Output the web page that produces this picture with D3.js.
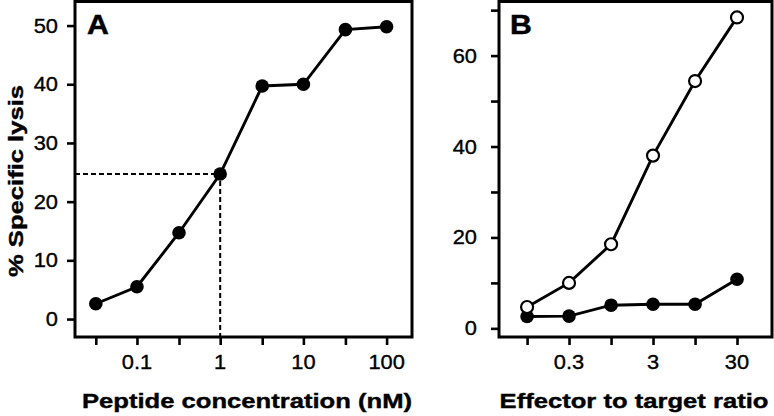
<!DOCTYPE html>
<html><head><meta charset="utf-8">
<script src="https://cdn.jsdelivr.net/npm/d3@7"></script>
<style>
html,body{margin:0;padding:0;background:#fff;}
svg{display:block;}
text{font-family:"Liberation Sans",Arial,Helvetica,sans-serif;fill:#000;}
</style></head>
<body>
<svg id="chart" width="774" height="416"></svg>
<script>
// Panel A: peptide titration
const concA = [0.032, 0.1, 0.32, 1, 3.2, 10, 32, 100];
const lysisA = [2.6, 5.5, 14.7, 24.7, 39.7, 40.0, 49.3, 49.8];
const ticksA_x = [0.032, 0.1, 0.32, 1, 3.2, 10, 32, 100];
const labelsA_x = ["", "0.1", "", "1", "", "10", "", "100"];
const ticksA_y = [0, 10, 20, 30, 40, 50];
const halfMaxConc = 1, halfMaxLysis = 24.7;

// Panel B: effector to target ratio
const ratioB = [0.095, 0.3, 0.95, 3, 9.5, 30];
const lysisOpen = [4.7, 10.0, 18.5, 38.0, 54.4, 68.4];
const lysisFilled = [2.6, 2.7, 5.1, 5.3, 5.3, 10.8];
const ticksB_x = [0.095, 0.3, 0.95, 3, 9.5, 30];
const labelsB_x = ["", "0.3", "", "3", "", "30"];
const ticksB_y = [0, 10, 20, 30, 40, 50, 60, 70];
const labelsB_y = ["0", "", "20", "", "40", "", "60", ""];

const svg = d3.select("#chart");
const SX = 1.12;      // horizontal stretch of the typeface
const tickFont = 19.5, titleFont = 21, panelFont = 27;

function stext(x, y, str, opts) {
  const o = Object.assign({size: tickFont, anchor: "middle", weight: "normal", rot: 0, sx: SX, stroke: 0.35}, opts || {});
  svg.append("text")
    .attr("transform", `translate(${x},${y}) rotate(${o.rot}) scale(${o.sx},1)`)
    .attr("text-anchor", o.anchor)
    .attr("font-size", o.size)
    .attr("font-weight", o.weight)
    .attr("stroke", o.stroke ? "#000" : "none")
    .attr("stroke-width", o.stroke)
    .text(str);
}

function panel(cfg) {
  const x = d3.scaleLog().domain(cfg.xDomain).range([cfg.left, cfg.right]);
  const y = d3.scaleLinear().domain(cfg.yDomain).range([cfg.bottom, cfg.top]);
  const g = svg.append("g");
  g.append("rect").attr("x", cfg.left).attr("y", cfg.top)
    .attr("width", cfg.right - cfg.left).attr("height", cfg.bottom - cfg.top)
    .attr("fill", "none").attr("stroke", "#000").attr("stroke-width", 3);
  const yAxis = d3.axisLeft(y).tickValues(cfg.yTicks).tickSize(8).tickFormat("");
  const ya = g.append("g").attr("transform", `translate(${cfg.left},0)`).call(yAxis);
  ya.select(".domain").remove();
  ya.selectAll(".tick line").attr("stroke-width", 2.6);
  cfg.yTicks.forEach((v, i) => {
    const lab = cfg.yLabels ? cfg.yLabels[i] : String(v);
    if (lab) stext(cfg.yLabelX, y(v) + 7, lab, {anchor: "end"});
  });
  const xAxis = d3.axisBottom(x).tickValues(cfg.xTicks).tickSize(8).tickFormat("");
  const xa = g.append("g").attr("transform", `translate(0,${cfg.bottom})`).call(xAxis);
  xa.select(".domain").remove();
  xa.selectAll(".tick line").attr("stroke-width", 2.6);
  cfg.xTicks.forEach((v, i) => {
    const lab = cfg.xLabels[i];
    if (lab) stext(x(v), 368.5, lab);
  });
  return {x, y, g};
}

// ---------- Panel A ----------
const A = panel({
  left: 75, right: 412, top: 1.5, bottom: 337,
  xDomain: [0.018, 202], yDomain: [-3.06, 54.1],
  yTicks: ticksA_y, xTicks: ticksA_x, xLabels: labelsA_x, yLabelX: 58
});
A.g.append("path")
  .attr("d", d3.line()([[A.x.range()[0], A.y(halfMaxLysis)], [A.x(halfMaxConc), A.y(halfMaxLysis)], [A.x(halfMaxConc), A.y.range()[0]]]))
  .attr("fill", "none").attr("stroke", "#000").attr("stroke-width", 2).attr("stroke-dasharray", "5,3");
const lineA = d3.line().x((d, i) => A.x(concA[i])).y(d => A.y(d));
A.g.append("path").attr("d", lineA(lysisA)).attr("fill", "none").attr("stroke", "#000").attr("stroke-width", 2.9);
A.g.selectAll("circle.a").data(lysisA).enter().append("circle")
  .attr("cx", (d, i) => A.x(concA[i])).attr("cy", d => A.y(d)).attr("r", 6.8).attr("fill", "#000");
stext(87, 34, "A", {anchor: "start", size: panelFont, weight: "bold", sx: 1.12, stroke: 0.5});

// ---------- Panel B ----------
const B = panel({
  left: 499, right: 772, top: 1.5, bottom: 337,
  xDomain: [0.044, 78.3], yDomain: [-1.9, 71.9],
  yTicks: ticksB_y, yLabels: labelsB_y, xTicks: ticksB_x, xLabels: labelsB_x, yLabelX: 477
});
const lineB = d3.line().x((d, i) => B.x(ratioB[i])).y(d => B.y(d));
B.g.append("path").attr("d", lineB(lysisFilled)).attr("fill", "none").attr("stroke", "#000").attr("stroke-width", 2.9);
B.g.append("path").attr("d", lineB(lysisOpen)).attr("fill", "none").attr("stroke", "#000").attr("stroke-width", 2.9);
B.g.selectAll("circle.f").data(lysisFilled).enter().append("circle")
  .attr("cx", (d, i) => B.x(ratioB[i])).attr("cy", d => B.y(d)).attr("r", 6.8).attr("fill", "#000");
B.g.selectAll("circle.o").data(lysisOpen).enter().append("circle")
  .attr("cx", (d, i) => B.x(ratioB[i])).attr("cy", d => B.y(d)).attr("r", 6)
  .attr("fill", "#fff").attr("stroke", "#000").attr("stroke-width", 2.2);
stext(510, 34, "B", {anchor: "start", size: panelFont, weight: "bold", sx: 1.12, stroke: 0.5});

// ---------- Axis titles ----------
stext(247, 408, "Peptide concentration (nM)", {size: titleFont, weight: "bold", sx: 1.22, stroke: 0.4});
stext(634, 408, "Effector to target ratio", {size: titleFont, weight: "bold", sx: 1.22, stroke: 0.4});
stext(23, 181, "% Specific lysis", {size: titleFont, weight: "bold", rot: -90, sx: 1.22, stroke: 0.4});
</script>
</body></html>
